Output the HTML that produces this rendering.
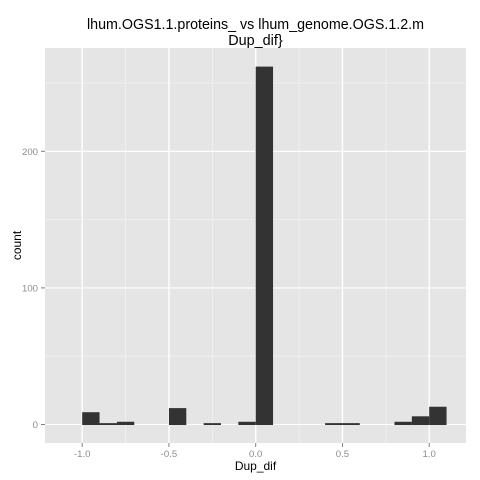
<!DOCTYPE html>
<html>
<head>
<meta charset="utf-8">
<style>
html,body{margin:0;padding:0;background:#fff;width:480px;height:480px;overflow:hidden}
svg{display:block}
text{font-family:"Liberation Sans",sans-serif}
</style>
</head>
<body>
<svg id="chart" xmlns="http://www.w3.org/2000/svg" width="480" height="480" viewBox="0 0 480 480">
<rect x="0" y="0" width="480" height="480" fill="#ffffff"/>
<g id="plot"></g>
<text x="255.5" y="29" font-size="14.4" text-anchor="middle" fill="#000" textLength="337" lengthAdjust="spacingAndGlyphs">lhum.OGS1.1.proteins_ vs lhum_genome.OGS.1.2.m</text>
<text x="255.5" y="45" font-size="14.4" text-anchor="middle" fill="#000">Dup_dif}</text>
<text x="255.5" y="470" font-size="12" text-anchor="middle" fill="#000">Dup_dif</text>
<text x="0" y="0" transform="translate(21,245.5) rotate(-90)" font-size="12" text-anchor="middle" fill="#000">count</text>
</svg>
<script>
const binStarts = [-1.0, -0.9, -0.8, -0.5, -0.3, -0.1, 0.0, 0.4, 0.5, 0.8, 0.9, 1.0];
const binCounts = [9, 1, 2, 12, 1, 2, 262, 1, 1, 2, 6, 13];
const binWidth = 0.1;
const xMajorTicks = [-1.0, -0.5, 0.0, 0.5, 1.0];
const xTickLabels = ["-1.0", "-0.5", "0.0", "0.5", "1.0"];
const xMinorTicks = [-0.75, -0.25, 0.25, 0.75];
const yMajorTicks = [0, 100, 200];
const yTickLabels = ["0", "100", "200"];
const yMinorTicks = [50, 150, 250];

const panelLeft = 45, panelRight = 466, panelTop = 48, panelBottom = 443;
function xScale(v) { return 255.7 + v * 173.5; }
function yScale(v) { return 424.5 - v * 1.366; }

const NS = "http://www.w3.org/2000/svg";
const plot = document.getElementById("plot");
function make(tag, attrs, parent) {
  const el = document.createElementNS(NS, tag);
  for (const k in attrs) el.setAttribute(k, attrs[k]);
  (parent || plot).appendChild(el);
  return el;
}

const panel = make("rect", {x: panelLeft, y: panelTop, width: panelRight - panelLeft, height: panelBottom - panelTop, fill: "#e5e5e5"});



xMinorTicks.forEach(function (t) {
  const l = make("line", {x1: xScale(t), x2: xScale(t), y1: panelTop, y2: panelBottom, stroke: "#f2f2f2", "stroke-width": 0.8});
  
  
});
yMinorTicks.forEach(function (t) {
  const l = make("line", {x1: panelLeft, x2: panelRight, y1: yScale(t), y2: yScale(t), stroke: "#f2f2f2", "stroke-width": 0.8});
  
  
});
xMajorTicks.forEach(function (t, i) {
  const x = xScale(t);
  const g = make("line", {x1: x, x2: x, y1: panelTop, y2: panelBottom, stroke: "#ffffff", "stroke-width": 1.4});
  
  
  const tick = make("line", {x1: x, x2: x, y1: panelBottom, y2: panelBottom + 4, stroke: "#7f7f7f", "stroke-width": 1});
  
  
  const label = make("text", {x: x, y: panelBottom + 14, "font-size": 9.6, "text-anchor": "middle", fill: "#8c8c8c"});
  
  
  label.textContent = xTickLabels[i];
});
yMajorTicks.forEach(function (t, i) {
  const y = yScale(t);
  const g = make("line", {x1: panelLeft, x2: panelRight, y1: y, y2: y, stroke: "#ffffff", "stroke-width": 1.1});
  
  
  const tick = make("line", {x1: panelLeft - 4, x2: panelLeft, y1: y, y2: y, stroke: "#7f7f7f", "stroke-width": 1});
  
  
  const label = make("text", {x: panelLeft - 7, y: y + 3.5, "font-size": 9.6, "text-anchor": "end", fill: "#8c8c8c"});
  
  
  label.textContent = yTickLabels[i];
});
binStarts.forEach(function (s, i) {
  const x0 = xScale(s), x1 = xScale(s + binWidth);
  const y0 = yScale(binCounts[i]), y1 = yScale(0) + 0.5;
  const bar = make("rect", {x: x0, y: y0, width: x1 - x0, height: y1 - y0, fill: "#333333"});
  
  
});
</script>
</body>
</html>
